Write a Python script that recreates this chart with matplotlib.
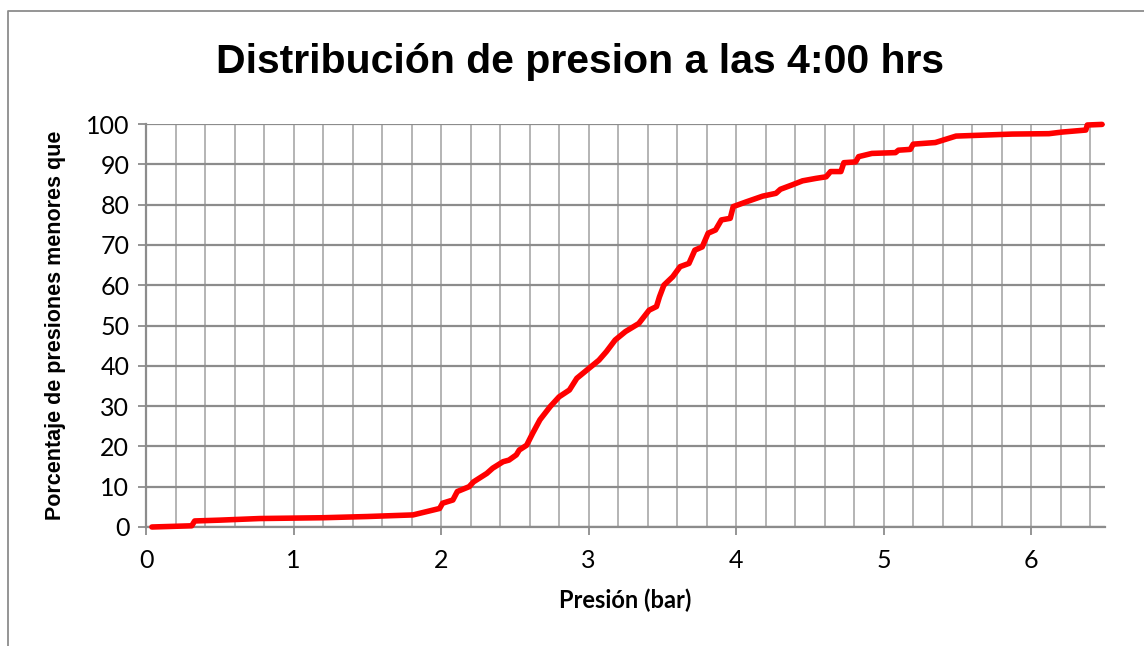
import matplotlib
matplotlib.use("Agg")
import matplotlib.pyplot as plt
from matplotlib.lines import Line2D
from matplotlib.ticker import MultipleLocator

# Data
presion = [0.04, 0.31, 0.33, 0.50, 0.77, 1.20, 1.50, 1.81, 1.90, 1.99, 2.01, 2.08, 2.11,
           2.19, 2.22, 2.31, 2.35, 2.42, 2.46, 2.51, 2.53, 2.58, 2.62, 2.67, 2.74, 2.80,
           2.87, 2.92, 2.99, 3.07, 3.12, 3.18, 3.25, 3.34, 3.41, 3.46, 3.48, 3.51, 3.57,
           3.62, 3.68, 3.72, 3.77, 3.81, 3.86, 3.90, 3.96, 3.98, 4.07, 4.18, 4.27, 4.30,
           4.38, 4.45, 4.54, 4.61, 4.64, 4.71, 4.73, 4.81, 4.83, 4.92, 5.08, 5.10, 5.18,
           5.20, 5.35, 5.42, 5.49, 5.87, 6.12, 6.21, 6.37, 6.38, 6.48]
porcentaje = [0, 0.3, 1.5, 1.7, 2.1, 2.3, 2.6, 3.0, 3.8, 4.6, 5.9, 6.7, 8.8,
              10.0, 11.2, 13.3, 14.6, 16.2, 16.6, 17.9, 19.1, 20.3, 23.2, 26.6, 29.9, 32.3,
              34.0, 36.9, 39.0, 41.4, 43.5, 46.4, 48.5, 50.5, 53.8, 54.7, 57.1, 60.0, 62.1,
              64.6, 65.4, 68.7, 69.5, 72.9, 73.7, 76.2, 76.6, 79.5, 80.7, 82.1, 82.8, 83.8,
              84.9, 85.9, 86.5, 86.9, 88.2, 88.2, 90.4, 90.6, 91.9, 92.7, 92.9, 93.5, 93.7,
              95.0, 95.4, 96.2, 97.0, 97.5, 97.6, 98.0, 98.5, 99.75, 99.9]
x_ticks = [0, 1, 2, 3, 4, 5, 6]
y_ticks = [0, 10, 20, 30, 40, 50, 60, 70, 80, 90, 100]

title = "Distribución de presion a las 4:00 hrs"
xlabel = "Presión (bar)"
ylabel = "Porcentaje de presiones menores que"

narrow = ['Liberation Sans Narrow', 'Liberation Sans', 'DejaVu Sans']
tickfont = ['Lato', 'DejaVu Sans']

W, H = 1144, 646
fig = plt.figure(figsize=(W / 100, H / 100), dpi=100)
fig.patch.set_facecolor('white')

ax = fig.add_axes([146 / W, 1 - 527 / H, (1105 - 146) / W, (527 - 124) / H])
ax.set_xlim(0, 6.5)
ax.set_ylim(0, 100)

ax.xaxis.set_minor_locator(MultipleLocator(0.2))
ax.set_xticks(x_ticks)
ax.set_yticks(y_ticks)

ax.grid(which='minor', axis='x', color='#b4b4b4', lw=1.4)
ax.grid(which='major', axis='x', color='#b4b4b4', lw=1.4)
ax.grid(which='major', axis='y', color='#8c8c8c', lw=1.6)
ax.set_axisbelow(True)

for s in ['top', 'right']:
    ax.spines[s].set_visible(False)
for s in ['left', 'bottom']:
    ax.spines[s].set_color('#8c8c8c')
    ax.spines[s].set_linewidth(1.6)

ax.tick_params(axis='both', which='major', direction='out', length=6, width=1.3,
               color='#8c8c8c', labelsize=18, pad=6)
ax.tick_params(axis='x', which='minor', length=0)
ax.tick_params(axis='x', which='major', pad=10)
for lab in ax.get_xticklabels() + ax.get_yticklabels():
    lab.set_family(tickfont)

ax.plot(presion, porcentaje, color='#ff0000', lw=4.0, solid_capstyle='round',
        solid_joinstyle='round', clip_on=False, zorder=5)

ax.set_xlabel(xlabel, fontsize=17, fontweight='bold', family=tickfont, labelpad=12)
ax.set_ylabel(ylabel, fontsize=15.5, fontweight='bold', family=narrow, labelpad=14)

fig.text(580 / W, 1 - 62 / H, title, ha='center', va='center', fontsize=29.5,
         fontweight='bold', family=narrow)

# outer chart border (partially cut off)
fig.add_artist(Line2D([8 / W, 8 / W, 1.0], [0.0, 1 - 11 / H, 1 - 11 / H],
                      transform=fig.transFigure, color='#8c8c8c', lw=1.3))

fig.savefig('out.png', dpi=100, facecolor='white')
